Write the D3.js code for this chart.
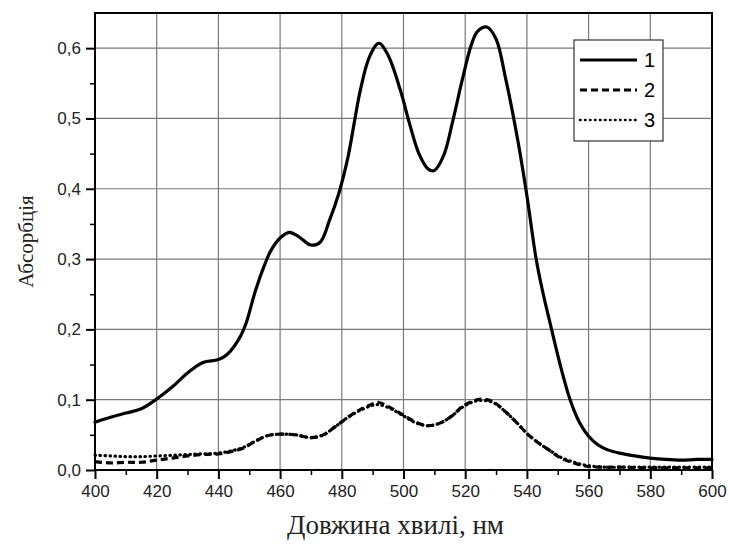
<!DOCTYPE html>
<html>
<head>
<meta charset="utf-8">
<script src="https://cdn.jsdelivr.net/npm/d3@7"></script>
<style>
  body { margin: 0; background: #fff; }
  .tick text { font-family: "Liberation Sans", Arial, sans-serif; font-size: 17px; fill: #222; }
</style>
</head>
<body>
<div id="chart"></div>
<script>
// wavelengths (nm) and absorbance
var wl1 = [400, 405, 410, 415, 420, 425, 430, 435, 440, 443, 447, 449, 452, 455, 457, 460, 463, 466, 470, 473, 476, 479, 482, 484, 486, 489, 492, 495, 499, 502, 505, 508, 510, 513, 516, 519, 522, 524, 527, 530, 533, 537, 540, 543, 545, 548, 551, 554, 557, 560, 563, 566, 570, 575, 580, 585, 590, 595, 600];
var abs1 = [0.068, 0.075, 0.081, 0.087, 0.101, 0.118, 0.138, 0.153, 0.157, 0.165, 0.189, 0.209, 0.255, 0.292, 0.312, 0.330, 0.338, 0.332, 0.320, 0.324, 0.355, 0.393, 0.445, 0.493, 0.540, 0.588, 0.607, 0.590, 0.540, 0.492, 0.450, 0.428, 0.426, 0.447, 0.497, 0.554, 0.605, 0.624, 0.630, 0.613, 0.559, 0.470, 0.390, 0.300, 0.256, 0.200, 0.146, 0.100, 0.068, 0.048, 0.036, 0.029, 0.024, 0.020, 0.017, 0.015, 0.014, 0.015, 0.015];

var wl2 = [400, 405, 410, 415, 420, 425, 430, 435, 440, 445, 448, 452, 456, 460, 465, 470, 474, 478, 482, 486, 490, 492, 496, 500, 504, 508, 512, 516, 519, 522, 525, 529, 533, 537, 540, 543, 547, 551, 556, 560, 565, 570, 580, 590, 600];
var abs2 = [0.012, 0.010, 0.011, 0.011, 0.014, 0.017, 0.020, 0.022, 0.023, 0.027, 0.031, 0.041, 0.049, 0.051, 0.050, 0.046, 0.050, 0.062, 0.075, 0.086, 0.094, 0.096, 0.088, 0.078, 0.068, 0.063, 0.067, 0.078, 0.090, 0.097, 0.101, 0.097, 0.083, 0.066, 0.052, 0.041, 0.029, 0.017, 0.009, 0.005, 0.004, 0.004, 0.003, 0.003, 0.003];

var wl3 = [400, 405, 410, 415, 420, 425, 430, 435, 440, 445, 448, 452, 456, 460, 465, 470, 474, 478, 482, 486, 490, 492, 496, 500, 504, 508, 512, 516, 519, 522, 525, 529, 533, 537, 540, 543, 547, 551, 556, 560, 565, 570, 580, 590, 600];
var abs3 = [0.021, 0.020, 0.019, 0.019, 0.020, 0.021, 0.022, 0.023, 0.024, 0.028, 0.032, 0.041, 0.049, 0.051, 0.050, 0.046, 0.050, 0.062, 0.075, 0.085, 0.092, 0.093, 0.087, 0.077, 0.067, 0.063, 0.067, 0.078, 0.089, 0.096, 0.099, 0.096, 0.083, 0.066, 0.052, 0.041, 0.029, 0.018, 0.010, 0.006, 0.004, 0.004, 0.004, 0.004, 0.004];

var seriesNames = ["1", "2", "3"];
var xTicks = [400, 420, 440, 460, 480, 500, 520, 540, 560, 580, 600];
var yTicks = [0, 0.1, 0.2, 0.3, 0.4, 0.5, 0.6];
var xTitle = "Довжина хвилі, нм";
var yTitle = "Абсорбція";

var W = 729, H = 544;
var margin = {top: 13, right: 17, bottom: 74, left: 95},
    width = W - margin.left - margin.right,
    height = H - margin.top - margin.bottom;

var svg = d3.select("#chart").append("svg")
  .attr("width", W).attr("height", H)
  .append("g")
  .attr("transform", "translate(" + margin.left + "," + margin.top + ")");

var x = d3.scaleLinear().domain([400, 600]).range([0, width]);
var y = d3.scaleLinear().domain([0, 0.65]).range([height, 0]);

// grid
svg.append("g").selectAll("line").data(xTicks.slice(1, -1)).enter().append("line")
  .attr("x1", function(d) { return x(d); }).attr("x2", function(d) { return x(d); })
  .attr("y1", 0).attr("y2", height)
  .style("stroke", "#7a7a7a").style("stroke-width", 1.2);
svg.append("g").selectAll("line").data(yTicks.slice(1)).enter().append("line")
  .attr("x1", 0).attr("x2", width)
  .attr("y1", function(d) { return y(d); }).attr("y2", function(d) { return y(d); })
  .style("stroke", "#7a7a7a").style("stroke-width", 1.2);

// minor ticks
var xMinor = d3.range(410, 600, 20), yMinor = d3.range(0.05, 0.65, 0.1);
svg.append("g")
  .attr("transform", "translate(0," + height + ")")
  .call(d3.axisBottom(x).tickValues(xMinor).tickSize(5).tickFormat(""))
  .call(function(g) { g.select(".domain").remove(); g.selectAll("line").style("stroke-width", 1.5); });
svg.append("g")
  .call(d3.axisLeft(y).tickValues(yMinor).tickSize(5).tickFormat(""))
  .call(function(g) { g.select(".domain").remove(); g.selectAll("line").style("stroke-width", 1.5); });

// major axes
svg.append("g")
  .attr("transform", "translate(0," + height + ")")
  .call(d3.axisBottom(x).tickValues(xTicks).tickSize(9).tickPadding(6).tickFormat(d3.format("d")))
  .call(function(g) { g.select(".domain").remove(); g.selectAll("line").style("stroke-width", 2); });
svg.append("g")
  .call(d3.axisLeft(y).tickValues(yTicks).tickSize(9).tickPadding(5)
    .tickFormat(function(d) { return d3.format(".1f")(d).replace(".", ","); }))
  .call(function(g) { g.select(".domain").remove(); g.selectAll("line").style("stroke-width", 2); });

// curves
var line = d3.line().curve(d3.curveCatmullRom.alpha(0.5))
  .x(function(d) { return x(d[0]); })
  .y(function(d) { return y(d[1]); });

var styles = [
  {dash: null, w: 3.2, cap: "round"},
  {dash: "7,4", w: 3.2, cap: "butt"},
  {dash: "0.5,4.5", w: 3.2, cap: "round"}
];
var data = [d3.zip(wl1, abs1), d3.zip(wl2, abs2), d3.zip(wl3, abs3)];

data.forEach(function(s, i) {
  svg.append("path")
    .datum(s)
    .attr("d", line)
    .style("fill", "none")
    .style("stroke", "#000")
    .style("stroke-width", styles[i].w)
    .style("stroke-linecap", styles[i].cap)
    .style("stroke-linejoin", "round")
    .style("stroke-dasharray", styles[i].dash);
});

// frame
svg.append("rect")
  .attr("x", 0).attr("y", 0).attr("width", width).attr("height", height)
  .style("fill", "none").style("stroke", "#000").style("stroke-width", 2);

// legend
var lg = svg.append("g").attr("transform", "translate(" + (574 - margin.left) + "," + (40 - margin.top) + ")");
lg.append("rect").attr("width", 89).attr("height", 101)
  .style("fill", "#fff").style("stroke", "#333").style("stroke-width", 1.2);
var legendLegs = [
  {dash: null, w: 3.2, cap: "butt"},
  {dash: "7,4", w: 3.2, cap: "butt"},
  {dash: "0.5,4.5", w: 2.6, cap: "round"}
];
seriesNames.forEach(function(n, i) {
  var yy = 20 + i * 30;
  lg.append("line").attr("x1", 6).attr("x2", 63).attr("y1", yy).attr("y2", yy)
    .style("stroke", "#000").style("stroke-width", legendLegs[i].w)
    .style("stroke-linecap", legendLegs[i].cap)
    .style("stroke-dasharray", legendLegs[i].dash);
  lg.append("text").attr("x", 70).attr("y", yy + 7).text(n)
    .style("font-family", "Liberation Sans, Arial, sans-serif").style("font-size", "20px");
});

// axis titles
svg.append("text")
  .attr("x", width / 2 - 8).attr("y", height + 64)
  .attr("text-anchor", "middle")
  .style("font-family", "Liberation Serif, Times New Roman, serif").style("font-size", "27px")
  .style("fill", "#222")
  .text(xTitle);
svg.append("text")
  .attr("transform", "translate(" + (-62) + "," + (height / 2) + ") rotate(-90)")
  .attr("text-anchor", "middle")
  .style("font-family", "Liberation Serif, Times New Roman, serif").style("font-size", "21px")
  .style("fill", "#222")
  .text(yTitle);
</script>
</body>
</html>
